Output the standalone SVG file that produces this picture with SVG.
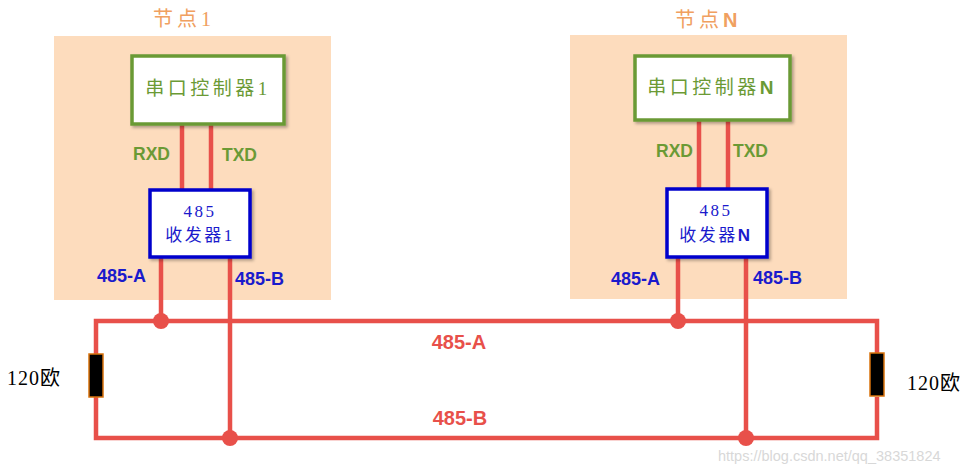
<svg xmlns="http://www.w3.org/2000/svg" width="970" height="473" viewBox="0 0 970 473">
<defs>
<filter id="sh" x="-10%" y="-10%" width="130%" height="130%">
<feDropShadow dx="2" dy="2" stdDeviation="1.5" flood-color="#000" flood-opacity="0.3"/>
</filter>
<style>
.panel{fill:#fddcbd}
.title{font-family:"Liberation Serif","Noto Sans CJK SC",serif;font-size:20px;fill:#f0a060;letter-spacing:4px}
.ctrl{fill:#fff;stroke:#6b9a35;stroke-width:3.5}
.ctrlt{font-family:"Liberation Serif","Noto Sans CJK SC",serif;font-size:19px;fill:#6b9a35;letter-spacing:3.5px}
.xcv{fill:#fff;stroke:#0000cc;stroke-width:3.5}
.xcvt{font-family:"Liberation Serif","Noto Sans CJK SC",serif;font-size:17px;fill:#1a1acc;letter-spacing:2.5px}
.sig{font-family:"Liberation Sans",Arial,sans-serif;font-weight:bold;font-size:17.5px;fill:#6b9a35}
.bl{font-family:"Liberation Sans",Arial,sans-serif;font-weight:bold;font-size:18px;fill:#1a1acc}
.rl{font-family:"Liberation Sans",Arial,sans-serif;font-weight:bold;font-size:20px;fill:#e8504a}
.w{stroke:#e8504a;stroke-width:4.5;fill:none}
.dot{fill:#e8504a}
.res{fill:#000;stroke:#d9730d;stroke-width:1.5}
.ohm{font-family:"Liberation Serif","Noto Sans CJK SC",serif;font-size:20px;fill:#000;letter-spacing:1px}
.wm{font-family:"Liberation Sans",Arial,sans-serif;font-size:14.5px;fill:#d8d8d8}
.nb{font-family:"Liberation Sans",Arial,sans-serif;font-weight:bold}
</style>
</defs>
<rect width="970" height="473" fill="#fff"/>

<g id="node1">
<rect class="panel" x="54" y="36" width="277" height="264"/>
<text class="title" x="153" y="26">节点1</text>
</g>
<g id="nodeN">
<rect class="panel" x="570" y="35" width="277" height="264"/>
<text class="title" x="675" y="27">节点<tspan class="nb">N</tspan></text>
</g>

<g id="connectors">
<line class="w" x1="182" y1="124" x2="182" y2="190"/>
<line class="w" x1="211" y1="124" x2="211" y2="190"/>
<line class="w" x1="699" y1="120" x2="699" y2="189"/>
<line class="w" x1="728" y1="120" x2="728" y2="189"/>
<line class="w" x1="161" y1="257" x2="161" y2="321"/>
<line class="w" x1="230" y1="257" x2="230" y2="438"/>
<line class="w" x1="678" y1="257" x2="678" y2="321"/>
<line class="w" x1="746" y1="257" x2="746" y2="438"/>
<polyline class="w" points="96,354 96,321 877,321 877,354"/>
<polyline class="w" points="96,397 96,438 877,438 877,397"/>
<circle class="dot" cx="161" cy="321" r="8"/>
<circle class="dot" cx="230" cy="438" r="8"/>
<circle class="dot" cx="678" cy="321" r="8"/>
<circle class="dot" cx="746" cy="438" r="8"/>
<text class="rl" x="459" y="349" text-anchor="middle">485-A</text>
<text class="rl" x="460" y="425" text-anchor="middle">485-B</text>
</g>

<g id="ctrl1">
<rect class="ctrl" x="132" y="56" width="152" height="68" filter="url(#sh)"/>
<text class="ctrlt" x="208" y="95" text-anchor="middle">串口控制器1</text>
</g>
<g id="ctrlN">
<rect class="ctrl" x="635" y="56" width="155" height="64" filter="url(#sh)"/>
<text class="ctrlt" x="712" y="94" text-anchor="middle">串口控制器<tspan class="nb">N</tspan></text>
</g>

<text class="sig" x="133" y="160">RXD</text>
<text class="sig" x="222" y="161">TXD</text>
<text class="sig" x="656" y="157">RXD</text>
<text class="sig" x="733" y="157">TXD</text>

<g id="xcv1">
<rect class="xcv" x="150" y="190" width="100" height="67" filter="url(#sh)"/>
<text class="xcvt" x="200" y="217" text-anchor="middle">485</text>
<text class="xcvt" x="200" y="241" text-anchor="middle">收发器1</text>
</g>
<g id="xcvN">
<rect class="xcv" x="667" y="189" width="100" height="68" filter="url(#sh)"/>
<text class="xcvt" x="716" y="216" text-anchor="middle">485</text>
<text class="xcvt" x="716" y="241" text-anchor="middle">收发器<tspan class="nb">N</tspan></text>
</g>

<text class="bl" x="97" y="282">485-A</text>
<text class="bl" x="235" y="285">485-B</text>
<text class="bl" x="611" y="285">485-A</text>
<text class="bl" x="753" y="284">485-B</text>

<g id="res1">
<rect class="res" x="89" y="354" width="14" height="43"/>
<text class="ohm" x="7" y="385">120欧</text>
</g>
<g id="resN">
<rect class="res" x="870" y="353" width="14" height="43"/>
<text class="ohm" x="907" y="390">120欧</text>
</g>

<text class="wm" x="718" y="461">https://blog.csdn.net/qq_38351824</text>
</svg>
